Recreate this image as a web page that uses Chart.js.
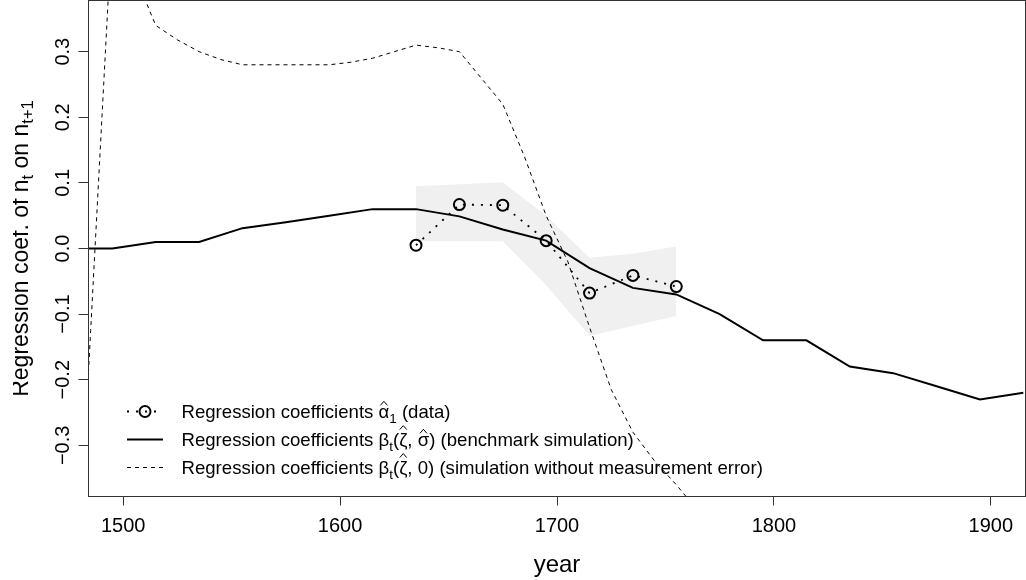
<!DOCTYPE html>
<html><head><meta charset="utf-8">
<script src="https://cdn.jsdelivr.net/npm/chart.js@4.4.0/dist/chart.umd.min.js"></script>
<style>html,body{margin:0;padding:0;background:#fff;overflow:hidden}#wrap{width:1026px;height:580px;position:relative}</style>
</head><body><div id="wrap"><canvas id="c" width="1026" height="580"></canvas></div>
<script>
const FONT = '"Liberation Sans", Arial, Helvetica, sans-serif';

// ---- data ----
const xTicks = [1500, 1600, 1700, 1800, 1900];
const xTickLabels = ['1500', '1600', '1700', '1800', '1900'];
const yTicks = [-0.3, -0.2, -0.1, 0, 0.1, 0.2, 0.3];
const yTickLabels = ['\u22120.3', '\u22120.2', '\u22120.1', '0.0', '0.1', '0.2', '0.3'];

const simYears = [1475, 1495, 1515, 1535, 1555, 1575, 1595, 1615, 1635, 1655, 1675, 1695,
                  1715, 1735, 1755, 1775, 1795, 1815, 1835, 1855, 1875, 1895, 1915];
const benchmark = [0, 0, 0.01, 0.01, 0.031, 0.04, 0.05, 0.06, 0.06, 0.049, 0.029, 0.012,
                   -0.03, -0.06, -0.07, -0.10, -0.14, -0.14, -0.18, -0.19, -0.21, -0.23, -0.22];

const noErrYears = [1475, 1485, 1495, 1505, 1515, 1525, 1535, 1545, 1555, 1565, 1575, 1585,
                    1595, 1605, 1615, 1625, 1635, 1645, 1655, 1665, 1675, 1685, 1695, 1705,
                    1715, 1725, 1735, 1745, 1755, 1765, 1775];
const noErr = [-0.75, -0.125, 0.50, 0.42, 0.34, 0.318, 0.30, 0.288, 0.28, 0.28, 0.28, 0.28,
               0.28, 0.284, 0.29, 0.30, 0.31, 0.306, 0.30, 0.26, 0.22, 0.14, 0.05, -0.02,
               -0.12, -0.215, -0.28, -0.324, -0.36, -0.40, -0.44];

const dataYears = [1635, 1655, 1675, 1695, 1715, 1735, 1755];
const alphaHat = [0.005, 0.067, 0.066, 0.012, -0.068, -0.041, -0.058];
const bandUpper = [0.095, 0.098, 0.101, 0.05, -0.014, -0.008, 0.003];
const bandLower = [0.011, 0.011, 0.011, -0.056, -0.133, -0.118, -0.103];

const xTitle = 'year';
const yTitleParts = [{t: 'Regression coef. of n'}, {sub: 't'}, {t: ' on n'}, {sub: 't+1'}];
const legendRows = [
  [{t: 'Regression coefficients '}, {hat: '\u03b1'}, {sub: '1'}, {t: ' (data)'}],
  [{t: 'Regression coefficients '}, {t: '\u03b2'}, {sub: 't'}, {t: '('}, {hat: '\u03b6', tall: true}, {t: ', '}, {hat: '\u03c3'}, {t: ')'}, {t: ' (benchmark simulation)'}],
  [{t: 'Regression coefficients '}, {t: '\u03b2'}, {sub: 't'}, {t: '('}, {hat: '\u03b6', tall: true}, {t: ', 0)'}, {t: ' (simulation without measurement error)'}]
];

const pts = (xs, ys) => xs.map((x, i) => ({x: x, y: ys[i]}));

// ---- rich text helper ----
function drawRich(ctx, x, y, parts, size, measureOnly) {
  let cx = x;
  for (const p of parts) {
    if (p.sub !== undefined) {
      ctx.font = (size * 0.72) + 'px ' + FONT;
      if (!measureOnly) ctx.fillText(p.sub, cx, y + size * 0.25);
      cx += ctx.measureText(p.sub).width;
    } else if (p.hat !== undefined) {
      ctx.font = size + 'px ' + FONT;
      const w = ctx.measureText(p.hat).width;
      if (!measureOnly) {
        ctx.fillText(p.hat, cx, y);
        const mid = cx + w / 2;
        const bottom = y - size * (p.tall ? 0.80 : 0.60) - 1.5;
        ctx.beginPath();
        ctx.moveTo(mid - 3.5, bottom);
        ctx.lineTo(mid, bottom - 4);
        ctx.lineTo(mid + 3.5, bottom);
        ctx.lineWidth = 1;
        ctx.stroke();
      }
      cx += w;
    } else {
      ctx.font = size + 'px ' + FONT;
      if (!measureOnly) ctx.fillText(p.t, cx, y);
      cx += ctx.measureText(p.t).width;
    }
  }
  return cx - x;
}

const overlay = {
  id: 'overlay',
  afterDraw(chart) {
    const ctx = chart.ctx;
    const a = chart.chartArea;
    ctx.save();
    // box
    ctx.strokeStyle = '#333';
    ctx.lineWidth = 1;
    ctx.strokeRect(a.left, a.top, a.right - a.left, a.bottom - a.top);

    // legend
    const size = 18.6;
    const baselines = [418, 446, 474];
    const x0 = 127, x1 = 163, tx = 181.5;
    ctx.fillStyle = '#000';
    ctx.strokeStyle = '#000';
    ctx.textBaseline = 'alphabetic';
    ctx.textAlign = 'left';
    baselines.forEach((b, i) => {
      const cy = b - 6.5;
      ctx.save();
      ctx.beginPath();
      if (i === 0) {
        ctx.setLineDash([2, 7]);
        ctx.lineWidth = 1.8;
        ctx.moveTo(x0, cy); ctx.lineTo(x1, cy); ctx.stroke();
        ctx.setLineDash([]);
        ctx.beginPath();
        ctx.lineWidth = 2;
        ctx.arc((x0 + x1) / 2, cy, 5.5, 0, Math.PI * 2);
        ctx.stroke();
      } else if (i === 1) {
        ctx.lineWidth = 2;
        ctx.moveTo(x0, cy); ctx.lineTo(x1, cy); ctx.stroke();
      } else {
        ctx.setLineDash([4, 4]);
        ctx.lineWidth = 1;
        ctx.moveTo(x0, cy); ctx.lineTo(x1, cy); ctx.stroke();
      }
      ctx.restore();
      drawRich(ctx, tx, b, legendRows[i], size, false);
    });

    // y title (rotated, clipped at the left like the source)
    ctx.save();
    ctx.beginPath();
    ctx.rect(13, 0, 80, 580);
    ctx.clip();
    const ys = 23;
    const w = drawRich(ctx, 0, 0, yTitleParts, ys, true);
    ctx.translate(27.5, (a.top + a.bottom) / 2);
    ctx.rotate(-Math.PI / 2);
    drawRich(ctx, -w / 2, 0, yTitleParts, ys, false);
    ctx.restore();
    ctx.restore();
  }
};

const tickGrid = (len) => ({drawOnChartArea: false, drawTicks: true, tickLength: len, color: '#333', lineWidth: 1});
const noPad = s => { s.paddingTop = 0; s.paddingBottom = 0; s.paddingLeft = 0; s.paddingRight = 0; };

new Chart(document.getElementById('c'), {
  type: 'line',
  data: {
    datasets: [
      {label: 'data', data: pts(dataYears, alphaHat), borderColor: '#000', borderWidth: 1.8,
       borderDash: [2, 7], pointRadius: 5.5, pointBorderWidth: 2, pointBorderColor: '#000',
       pointBackgroundColor: 'rgba(0,0,0,0)', fill: false, order: 1},
      {label: 'benchmark', data: pts(simYears, benchmark), borderColor: '#000', borderWidth: 2,
       pointRadius: 0, fill: false, order: 2},
      {label: 'noerr', data: pts(noErrYears, noErr), borderColor: '#000', borderWidth: 1,
       borderDash: [4, 4], pointRadius: 0, fill: false, order: 3},
      {label: 'upper', data: pts(dataYears, bandUpper), borderWidth: 0, borderColor: 'rgba(0,0,0,0)',
       pointRadius: 0, backgroundColor: 'rgb(240,240,240)', fill: '+1', order: 5},
      {label: 'lower', data: pts(dataYears, bandLower), borderWidth: 0, borderColor: 'rgba(0,0,0,0)',
       pointRadius: 0, fill: false, order: 6}
    ]
  },
  options: {
    responsive: false,
    animation: false,
    devicePixelRatio: 1,
    layout: {autoPadding: false, padding: {top: 0.5, right: 0.5, left: 0, bottom: 0}},
    plugins: {legend: {display: false}, tooltip: {enabled: false}},
    elements: {line: {tension: 0}},
    scales: {
      x: {
        type: 'linear', min: 1484, max: 1916,
        afterBuildTicks: s => { s.ticks = xTicks.map(v => ({value: v})); },
        afterFit: s => { s.height = 83.5; noPad(s); },
        ticks: {
          callback: v => xTickLabels[xTicks.indexOf(v)],
          font: {family: FONT, size: 20}, color: '#000', padding: 9,
          maxRotation: 0, minRotation: 0, autoSkip: false
        },
        grid: tickGrid(9),
        border: {display: false},
        title: {display: true, text: xTitle, color: '#000', font: {family: FONT, size: 24},
                padding: {top: 0, bottom: 0.5}}
      },
      y: {
        type: 'linear', min: -0.378, max: 0.378,
        afterBuildTicks: s => { s.ticks = yTicks.map(v => ({value: v})); },
        afterFit: s => { s.width = 88.5; noPad(s); },
        ticks: {
          callback: v => yTickLabels[yTicks.findIndex(t => Math.abs(t - v) < 1e-9)],
          font: {family: FONT, size: 20}, color: '#000', padding: -4.3,
          minRotation: 90, maxRotation: 90, crossAlign: 'center', autoSkip: false
        },
        grid: tickGrid(10),
        border: {display: false}
      }
    }
  },
  plugins: [overlay]
});
</script>
</body></html>
